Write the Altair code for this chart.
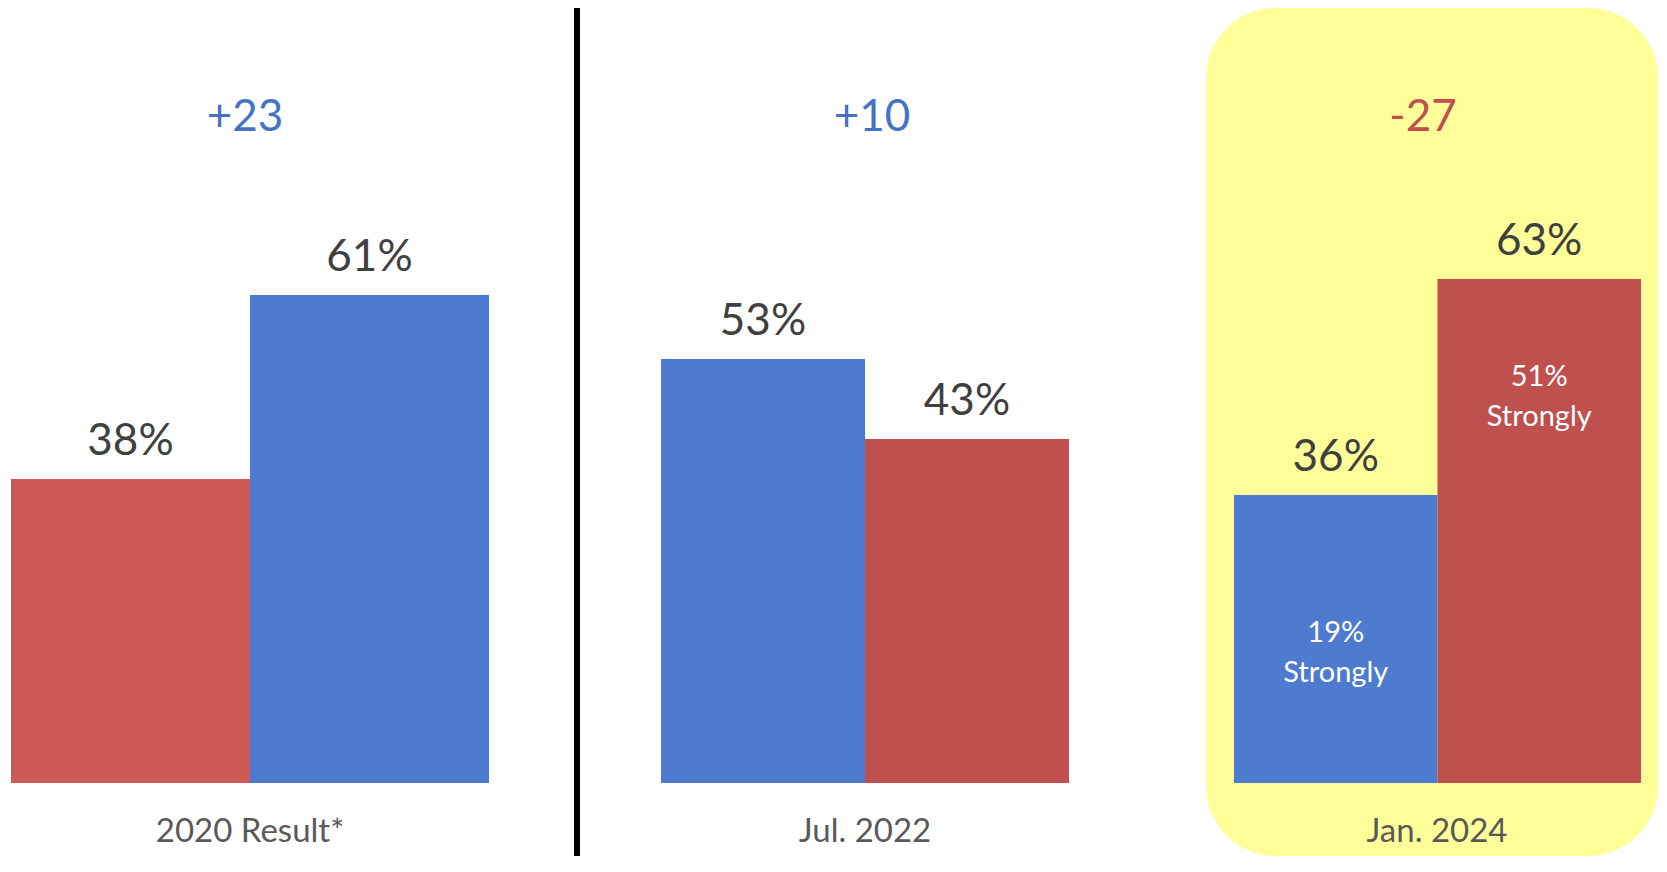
import altair as alt
import pandas as pd

# ---------------- data ----------------
periods = ["2020 Result*", "Jul. 2022", "Jan. 2024"]
row_period = ["2020 Result*", "2020 Result*", "Jul. 2022", "Jul. 2022", "Jan. 2024", "Jan. 2024"]
row_party = ["Rep", "Dem", "Dem", "Rep", "Dem", "Rep"]
row_value = [38, 61, 53, 43, 36, 63]
row_strongly = [None, None, None, None, 19, 51]
row_color = ["#CD5A56", "#4D7BCF", "#4D7BCF", "#C0504D", "#4D7BCF", "#C0504D"]

df = pd.DataFrame({
    "period": row_period,
    "party": row_party,
    "value": row_value,
    "strongly": row_strongly,
    "color": row_color,
})
df["label"] = df["value"].astype(int).astype(str) + "%"
df["strong_label"] = df["strongly"].apply(
    lambda v: "" if pd.isna(v) else f"{int(v)}%\nStrongly")

# margin (Dem minus Rep) per period, derived from the values
diff_rows = []
for p in periods:
    s = df[df.period == p].set_index("party")["value"]
    d = int(s["Dem"] - s["Rep"])
    diff_rows.append({
        "period": p,
        "diff_label": f"+{d}" if d > 0 else f"{d}",
        "diff_color": "#4472C4" if d > 0 else "#C0504D",
    })
diff_df = pd.DataFrame(diff_rows)

# ---------------- layout ----------------
H = 848
FONT = "Lato"
y_scale = alt.Scale(domain=[-9.125, 96.875], nice=False, zero=False)


def blank(width, fill=None):
    view = alt.ViewBackground(strokeWidth=0, fill=fill) if fill else alt.ViewBackground(strokeWidth=0)
    return alt.Chart(pd.DataFrame({"v": [0]})).mark_rect(opacity=0).encode(
        x=alt.value(0), x2=alt.value(1), y=alt.value(0), y2=alt.value(1)
    ).properties(width=width, height=H, view=view)


def panel(i, width, pad_outer, align, diff_x, cat_x, fill=None):
    p = periods[i]
    sub = df[df.period == p]
    x = alt.X("party:N", sort=None, axis=None,
              scale=alt.Scale(paddingInner=0, paddingOuter=pad_outer, align=align))
    y = alt.Y("value:Q", axis=None, scale=y_scale)

    bars = alt.Chart(sub).mark_bar().encode(
        x=x, y=y, y2=alt.datum(0), color=alt.Color("color:N", scale=None)
    )
    vals = alt.Chart(sub).mark_text(
        font=FONT, fontSize=44, color="#404040", baseline="alphabetic", dy=-24
    ).encode(x=x, y=y, text="label:N")

    dsub = diff_df[diff_df.period == p]
    diff = alt.Chart(dsub).mark_text(
        font=FONT, fontSize=44, baseline="middle"
    ).encode(x=alt.value(diff_x), y=alt.value(110), text="diff_label:N",
             color=alt.Color("diff_color:N", scale=None))
    cat = alt.Chart(dsub).mark_text(
        font=FONT, fontSize=33, color="#595959", baseline="middle"
    ).encode(x=alt.value(cat_x), y=alt.value(824), text="period:N")

    layers = [bars, vals, diff, cat]
    strong_sub = sub[sub["strong_label"] != ""]
    if len(strong_sub):
        strong = alt.Chart(strong_sub).mark_text(
            font=FONT, fontSize=29, color="#FFFFFF", baseline="middle",
            lineBreak="\n", lineHeight=40, dy=2
        ).encode(x=x, y=alt.Y("strongly:Q", axis=None, scale=y_scale),
                 text="strong_label:N")
        layers.append(strong)

    view = alt.ViewBackground(strokeWidth=0, fill=fill, cornerRadius=70) if fill \
        else alt.ViewBackground(strokeWidth=0)
    return alt.layer(*layers).properties(width=width, height=H, view=view)


p1 = panel(0, 478, 0, 0.5, 234, 239)
p2 = panel(1, 408, 0, 0.5, 211, 204)
p3 = panel(2, 452, 0.1106, 0.622, 217, 231, fill="#FFFF99")

chart = alt.hconcat(
    blank(3), p1, blank(85), blank(6, fill="#000000"), blank(81), p2, blank(137), p3,
    spacing=0, padding=0
).configure_view(strokeWidth=0).properties(background="#FFFFFF")

chart.save("out.html", embed_options={"renderer": "svg", "actions": False})
